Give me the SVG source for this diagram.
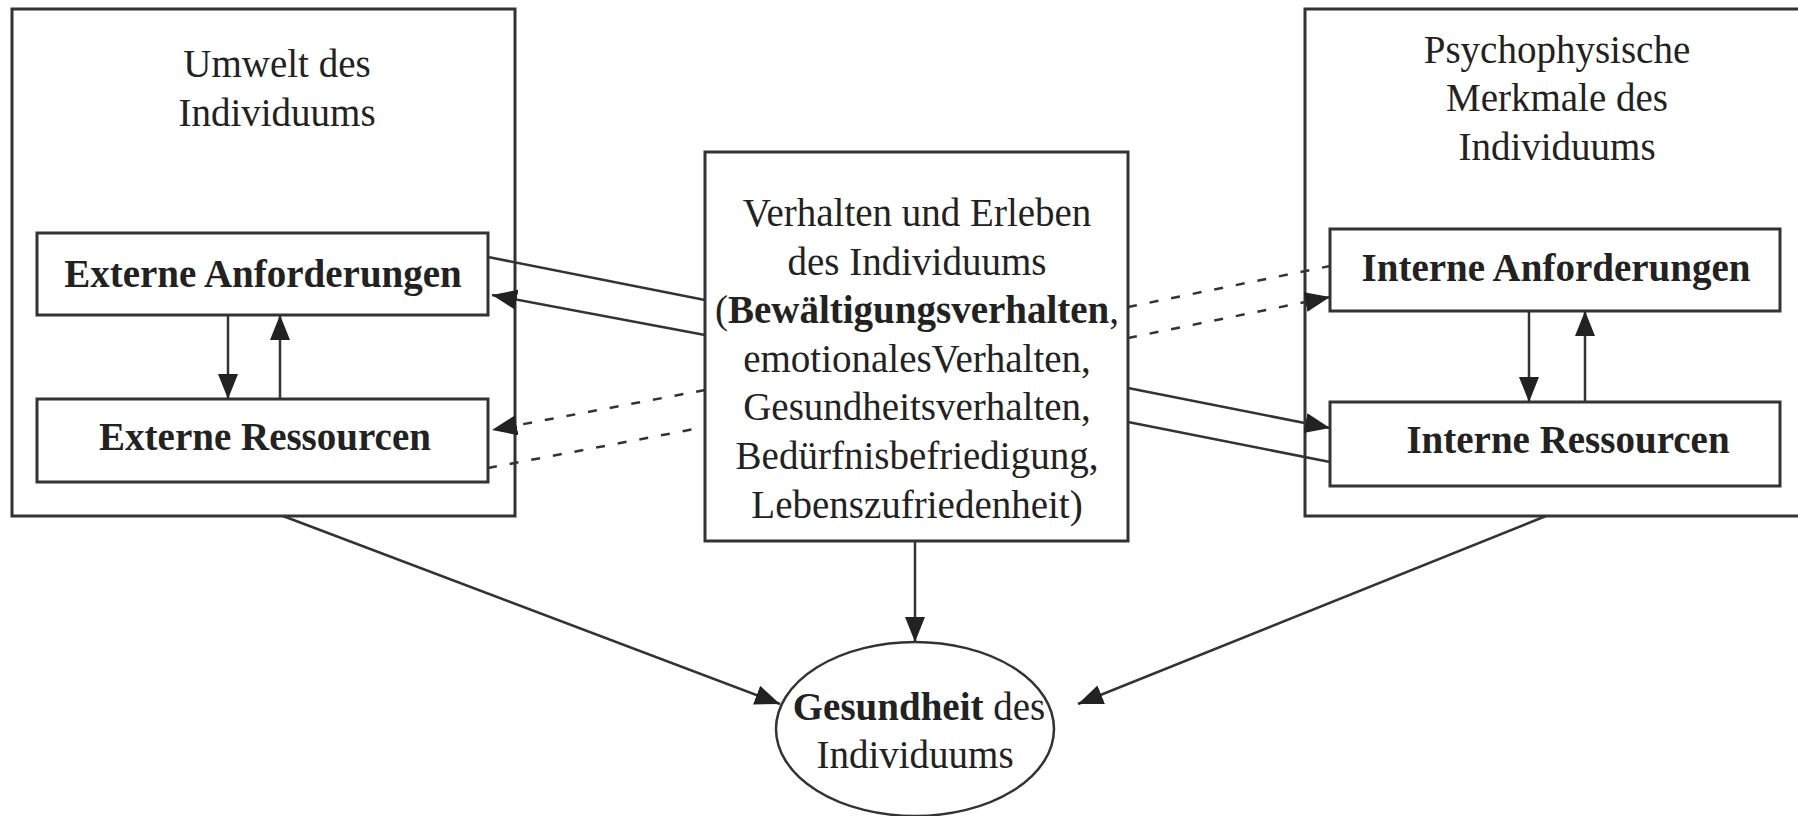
<svg xmlns="http://www.w3.org/2000/svg" width="1798" height="816" viewBox="0 0 1798 816">
<defs>
<marker id="ah" markerUnits="userSpaceOnUse" markerWidth="28" markerHeight="22" refX="25" refY="10" orient="auto">
<path d="M0,0 L25,10 L0,20 z" fill="#222"/>
</marker>
<style>
.box{fill:#fff;stroke:#333;stroke-width:3}
.t{font-family:"Liberation Serif","Times New Roman",serif;font-size:39px;fill:#222;text-anchor:middle}
.b{font-weight:bold}
.c{fill:none;stroke:#333;stroke-width:2.5}
.d{fill:none;stroke:#333;stroke-width:2.5;stroke-dasharray:9 13}
.a{marker-end:url(#ah)}
</style>
</defs>
<rect width="1798" height="816" fill="#fff"/>
<g id="umwelt">
<rect class="box" x="12" y="9" width="503" height="507"/>
<text class="t" x="277" y="77">Umwelt des</text>
<text class="t" x="277" y="126">Individuums</text>
</g>
<g id="psycho">
<rect class="box" x="1305" y="9" width="500" height="507"/>
<text class="t" x="1557" y="63">Psychophysische</text>
<text class="t" x="1557" y="111">Merkmale des</text>
<text class="t" x="1557" y="160">Individuums</text>
</g>
<g id="ext-anf">
<rect class="box" x="37" y="233" width="451" height="82"/>
<text class="t b" x="263" y="287">Externe Anforderungen</text>
</g>
<g id="ext-res">
<rect class="box" x="37" y="399" width="451" height="83"/>
<text class="t b" x="265" y="450">Externe Ressourcen</text>
</g>
<g id="int-anf">
<rect class="box" x="1330" y="229" width="450" height="82"/>
<text class="t b" x="1556" y="281">Interne Anforderungen</text>
</g>
<g id="int-res">
<rect class="box" x="1330" y="402" width="450" height="84"/>
<text class="t b" x="1568" y="453">Interne Ressourcen</text>
</g>
<g id="verhalten">
<rect class="box" x="705" y="152" width="423" height="389"/>
<text class="t" x="917" y="226">Verhalten und Erleben</text>
<text class="t" x="917" y="275">des Individuums</text>
<text class="t" x="917" y="323">(<tspan class="b">Bewältigungsverhalten</tspan>,</text>
<text class="t" x="917" y="372">emotionalesVerhalten,</text>
<text class="t" x="917" y="420">Gesundheitsverhalten,</text>
<text class="t" x="917" y="469">Bedürfnisbefriedigung,</text>
<text class="t" x="917" y="518">Lebenszufriedenheit)</text>
</g>
<g id="gesundheit">
<ellipse cx="915" cy="729" rx="139" ry="87" fill="#fff" stroke="#333" stroke-width="2.5"/>
<text class="t" x="919" y="720"><tspan class="b">Gesundheit</tspan> des</text>
<text class="t" x="915" y="768">Individuums</text>
</g>
<g id="connectors">
<line class="c a" x1="228" y1="315" x2="228" y2="399"/>
<line class="c a" x1="280" y1="399" x2="280" y2="315"/>
<line class="c a" x1="1529" y1="311" x2="1529" y2="402"/>
<line class="c a" x1="1585" y1="402" x2="1585" y2="311"/>
<line class="c" x1="488" y1="257" x2="705" y2="300"/>
<line class="c a" x1="705" y1="335" x2="492" y2="295"/>
<line class="d a" x1="705" y1="390" x2="492" y2="430"/>
<line class="d" x1="488" y1="468" x2="705" y2="427"/>
<line class="d" x1="1128" y1="307" x2="1330" y2="266"/>
<line class="d a" x1="1128" y1="338" x2="1330" y2="297"/>
<line class="c a" x1="1128" y1="388" x2="1330" y2="428"/>
<line class="c" x1="1128" y1="422" x2="1330" y2="462"/>
<line class="c a" x1="283" y1="516" x2="780" y2="704"/>
<line class="c a" x1="1546" y1="516" x2="1078" y2="704"/>
<line class="c a" x1="915" y1="541" x2="915" y2="642"/>
</g>
</svg>
